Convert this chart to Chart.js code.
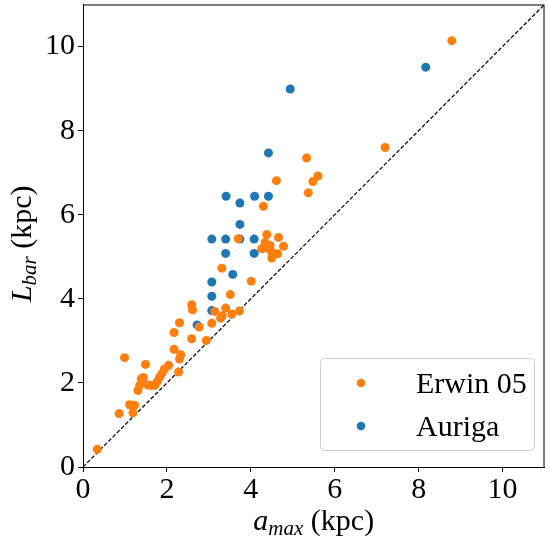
<!DOCTYPE html>
<html>
<head>
<meta charset="utf-8">
<script src="https://cdn.jsdelivr.net/npm/chart.js@4"></script>
<style>
  html, body { margin: 0; padding: 0; background: #fff; }
  #wrap { width: 549px; height: 538px; position: relative; }
</style>
</head>
<body>
<div id="wrap"><canvas id="barChart"></canvas></div>
<script>
// Erwin 05 sample (a_max, L_bar) in kpc
const erwinX = [0.34, 0.86, 0.99, 1.11, 1.19, 1.23, 1.31, 1.35, 1.39, 1.44, 1.49, 1.55, 1.63, 1.71, 1.76,
  1.82, 1.88, 1.94, 2.04, 2.17, 2.17, 2.28, 2.30, 2.33, 2.30, 2.59, 2.59, 2.61, 2.77, 2.94,
  3.07, 3.14, 3.28, 3.32, 3.40, 3.55, 3.73, 3.51, 3.31, 4.01, 3.70, 4.30, 4.61, 4.38, 4.34,
  4.26, 4.38, 4.46, 4.50, 4.66, 4.78, 4.64, 4.50, 5.33, 5.60, 5.48, 5.37, 7.20, 8.79];
const erwinY = [0.42, 1.27, 2.60, 1.48, 1.29, 1.47, 1.82, 1.94, 2.10, 2.13, 2.44, 1.95, 1.94, 1.94, 2.02,
  2.13, 2.22, 2.33, 2.42, 3.20, 2.80, 2.26, 2.57, 2.67, 3.43, 3.05, 3.86, 3.74, 3.33, 3.01,
  3.42, 3.70, 3.54, 3.60, 3.78, 3.64, 3.71, 4.10, 4.73, 4.42, 5.43, 6.20, 6.81, 5.53, 5.34,
  5.19, 5.21, 5.27, 5.11, 5.46, 5.25, 5.07, 4.97, 7.35, 6.92, 6.79, 6.52, 7.60, 10.14];

// Auriga simulations
const aurigaX = [2.72, 3.07, 3.07, 3.07, 3.57, 3.07, 3.40, 3.74, 4.08, 3.40, 4.08, 3.74, 3.74, 3.41,
  4.09, 4.42, 4.42, 4.94, 8.17];
const aurigaY = [3.38, 3.72, 4.06, 4.40, 4.58, 5.42, 5.42, 5.42, 5.42, 5.08, 5.08, 5.77, 6.28, 6.44,
  6.44, 6.44, 7.47, 8.99, 9.51];

// one-to-one line end points
const diagonal = [0, 11];
const axisMin = 0, axisMax = 11, tickStep = 2;

const seriesLabels = ['Erwin 05', 'Auriga'];
const seriesColors = ['#ff7f0e', '#1f77b4'];

const SERIF = '"Liberation Serif", "DejaVu Serif", serif';

function toPoints(xs, ys) {
    return xs.map((x, i) => ({ x: x, y: ys[i] }));
}

// draws e.g. "L_bar (kpc)" with an italic letter and italic subscript
function drawMathLabel(ctx, main, sub, rest, cx, baseline) {
    const mainFont = 'italic 30px ' + SERIF;
    const subFont = 'italic 21px ' + SERIF;
    const restFont = '30px ' + SERIF;
    ctx.font = mainFont; const w1 = ctx.measureText(main).width;
    ctx.font = subFont; const w2 = ctx.measureText(sub).width;
    ctx.font = restFont; const w3 = ctx.measureText(rest).width;
    let x = cx - (w1 + w2 + w3) / 2;
    ctx.textAlign = 'left';
    ctx.textBaseline = 'alphabetic';
    ctx.fillStyle = '#000';
    ctx.font = mainFont; ctx.fillText(main, x, baseline); x += w1;
    ctx.font = subFont; ctx.fillText(sub, x, baseline + 5); x += w2;
    ctx.font = restFont; ctx.fillText(rest, x, baseline);
}

const decorations = {
    id: 'decorations',
    afterDraw(chart) {
        const ctx = chart.ctx;
        const area = chart.chartArea;
        ctx.save();
        // full box frame
        ctx.strokeStyle = '#000';
        ctx.lineWidth = 1;
        ctx.strokeRect(area.left + 0.5, area.top + 0.5, area.right - area.left - 1, area.bottom - area.top);

        // axis titles
        drawMathLabel(ctx, 'a', 'max', ' (kpc)', (area.left + area.right) / 2, 530);
        ctx.save();
        ctx.translate(31, (area.top + area.bottom) / 2 + 8);
        ctx.rotate(-Math.PI / 2);
        drawMathLabel(ctx, 'L', 'bar', ' (kpc)', 0, 0);
        ctx.restore();

        // legend box in lower right
        const bx = 320.5, by = 358.5, bw = 214, bh = 92, r = 4;
        ctx.beginPath();
        ctx.roundRect(bx, by, bw, bh, r);
        ctx.fillStyle = 'rgba(255,255,255,0.8)';
        ctx.fill();
        ctx.strokeStyle = '#cccccc';
        ctx.lineWidth = 1;
        ctx.stroke();
        const rows = [383, 426];
        seriesLabels.forEach((label, i) => {
            ctx.beginPath();
            ctx.arc(361, rows[i], 4.3, 0, Math.PI * 2);
            ctx.fillStyle = seriesColors[i];
            ctx.fill();
            ctx.fillStyle = '#000';
            ctx.font = '30px ' + SERIF;
            ctx.textAlign = 'left';
            ctx.textBaseline = 'alphabetic';
            ctx.fillText(label, 416, rows[i] + 10);
        });
        ctx.restore();
    }
};

function axisOptions(fitProp, fitSize) {
    return {
        type: 'linear',
        min: axisMin,
        max: axisMax,
        grid: { drawOnChartArea: false, drawTicks: true, tickLength: 5, color: '#000', lineWidth: 1 },
        border: { display: true, color: '#000', width: 1 },
        ticks: {
            stepSize: tickStep,
            includeBounds: false,
            color: '#000',
            padding: fitProp === 'height' ? 0 : 3,
            font: { family: SERIF, size: 30 }
        },
        afterBuildTicks: scale => {
            scale.ticks = scale.ticks.filter(t => t.value % tickStep === 0);
        },
        afterFit: scale => {
            scale[fitProp] = fitSize;
            // keep the plot box fixed, labels may overhang
            scale.paddingTop = 0;
            scale.paddingBottom = 0;
            scale.paddingLeft = 0;
            scale.paddingRight = 0;
        }
    };
}

new Chart(document.getElementById('barChart').getContext('2d'), {
    type: 'scatter',
    data: {
        datasets: [
            {
                label: seriesLabels[0],
                data: toPoints(erwinX, erwinY),
                backgroundColor: seriesColors[0],
                borderWidth: 0,
                pointRadius: 4.5,
                pointHoverRadius: 4.5
            },
            {
                label: seriesLabels[1],
                data: toPoints(aurigaX, aurigaY),
                backgroundColor: seriesColors[1],
                borderWidth: 0,
                pointRadius: 4.5,
                pointHoverRadius: 4.5
            },
            {
                type: 'line',
                label: 'one-to-one',
                data: toPoints(diagonal, diagonal),
                borderColor: '#000',
                borderWidth: 1.2,
                borderDash: [4, 2],
                pointRadius: 0,
                fill: false
            }
        ]
    },
    options: {
        responsive: true,
        maintainAspectRatio: false,
        animation: false,
        layout: { padding: { top: 0, right: 2, left: 0, bottom: 0 } },
        scales: {
            x: axisOptions('height', 71),
            y: axisOptions('width', 83)
        },
        plugins: {
            legend: { display: false },
            tooltip: { enabled: false }
        }
    },
    plugins: [decorations]
});
</script>
</body>
</html>
